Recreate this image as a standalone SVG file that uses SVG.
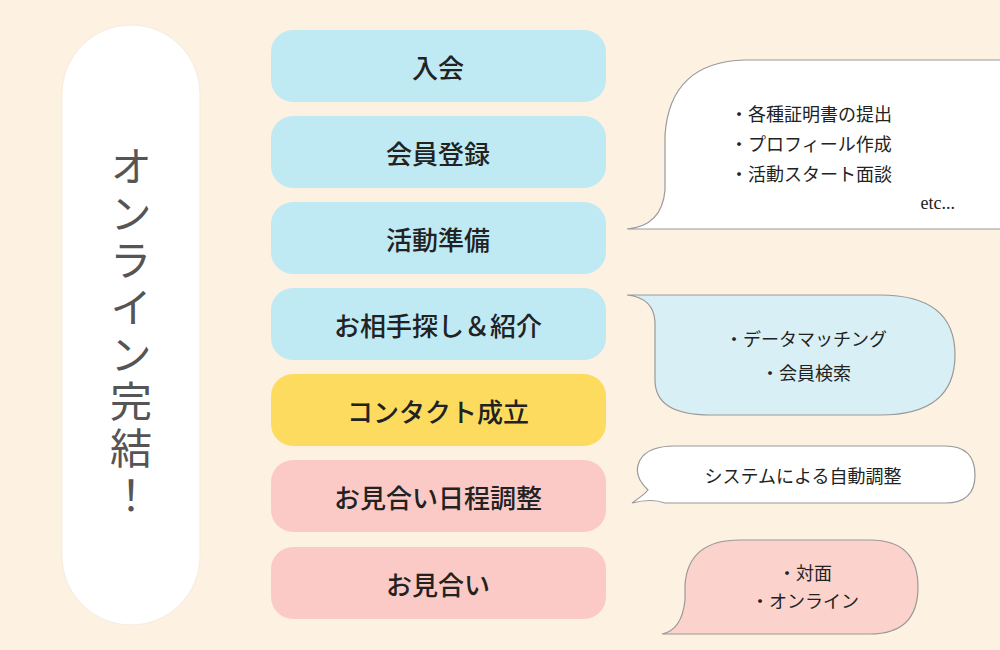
<svg xmlns="http://www.w3.org/2000/svg" width="1000" height="650" viewBox="0 0 1000 650">
<style>
text{font-family:"Noto Sans CJK JP","Liberation Serif",sans-serif;fill:#222}
.step{font-size:26px;text-anchor:middle;dominant-baseline:central;font-weight:500}
.b{font-size:18px;dominant-baseline:central}
.bub{stroke:#999;stroke-width:1.2}
.cy{fill:#bfe9f3}.ye{fill:#fddb5f}.pk{fill:#fbcac6}
</style>
<rect width="1000" height="650" fill="#fdf1e2"/>
<g id="side">
<rect x="62" y="25" width="138" height="600" rx="69" fill="#fff" stroke="#f6ebdd" stroke-width="1"/>
<text x="131" y="333" font-size="42" text-anchor="middle" dominant-baseline="central" style="writing-mode:vertical-rl;fill:#555" letter-spacing="5">オンライン完結！</text>
</g>
<g id="s1"><rect class="cy" x="271" y="30" width="335" height="72" rx="22"/><text class="step" x="438" y="66">入会</text></g>
<g id="s2"><rect class="cy" x="271" y="116" width="335" height="72" rx="22"/><text class="step" x="438" y="152">会員登録</text></g>
<g id="s3"><rect class="cy" x="271" y="202" width="335" height="72" rx="22"/><text class="step" x="438" y="238">活動準備</text></g>
<g id="s4"><rect class="cy" x="271" y="288" width="335" height="72" rx="22"/><text class="step" x="438" y="324">お相手探し＆紹介</text></g>
<g id="s5"><rect class="ye" x="271" y="374" width="335" height="72" rx="22"/><text class="step" x="438" y="410">コンタクト成立</text></g>
<g id="s6"><rect class="pk" x="271" y="460" width="335" height="72" rx="22"/><text class="step" x="438" y="496">お見合い日程調整</text></g>
<g id="s7"><rect class="pk" x="271" y="547" width="335" height="72" rx="22"/><text class="step" x="438" y="583">お見合い</text></g>
<g id="bubble1">
<path class="bub" fill="#fff" d="M627,229 Q662,226 665,190 L665,135 Q670,62 745,60 L1002,60 L1002,229 Z"/>
<text class="b" x="730" y="113">・各種証明書の提出</text>
<text class="b" x="730" y="143">・プロフィール作成</text>
<text class="b" x="730" y="173">・活動スタート面談</text>
<text class="b" x="955" y="203" text-anchor="end" style="font-family:'Liberation Serif',serif">etc...</text>
</g>
<g id="bubble2">
<path class="bub" fill="#d8f0f5" d="M627,295 L880,295 Q955,295 955,355 Q955,415 880,415 L710,415 Q655,415 655,380 L655,322 Q654,298 627,295 Z"/>
<text class="b" x="806" y="338" text-anchor="middle">・データマッチング</text>
<text class="b" x="806" y="372" text-anchor="middle">・会員検索</text>
</g>
<g id="bubble3">
<path class="bub" fill="#fff" d="M632,503 Q645,494 648,490 Q632,475 640,460 Q648,446 675,446 L945,446 Q975,446 975,475 Q975,503 945,503 L665,503 Q652,498 632,503 Z"/>
<text class="b" x="803" y="475" text-anchor="middle">システムによる自動調整</text>
</g>
<g id="bubble4">
<path class="bub" fill="#fbd3cc" d="M662,634 Q682,630 685,600 L685,585 Q688,540 740,540 L870,540 Q918,540 918,587 Q918,634 870,634 Z"/>
<text class="b" x="805" y="572" text-anchor="middle">・対面</text>
<text class="b" x="805" y="600" text-anchor="middle">・オンライン</text>
</g>
<g id="connectors"/>
</svg>
